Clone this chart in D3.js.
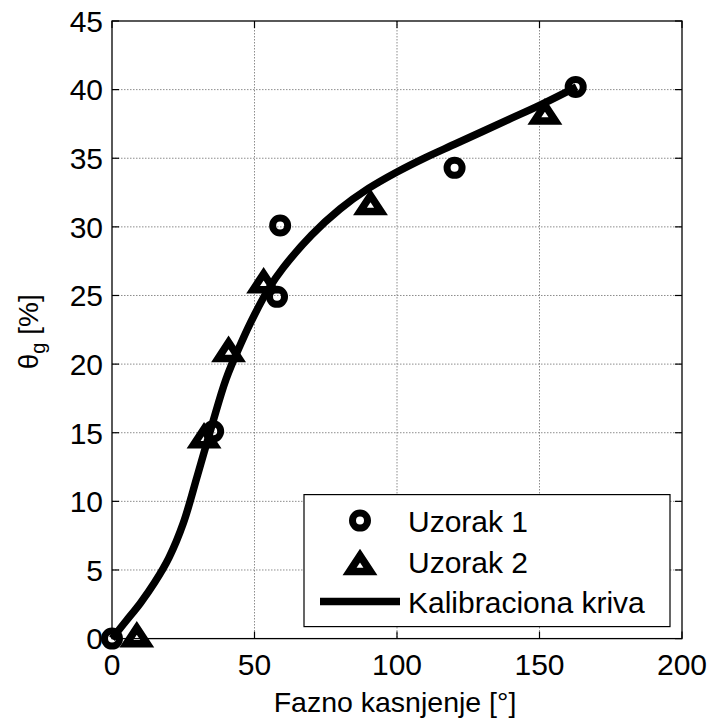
<!DOCTYPE html>
<html>
<head>
<meta charset="utf-8">
<script src="https://cdn.jsdelivr.net/npm/d3@7"></script>
<style>
  html, body { margin: 0; padding: 0; background: #fff; }
  svg { display: block; }
  text { font-family: "Liberation Sans", Arial, Helvetica, sans-serif; fill: #000; }
</style>
</head>
<body>
<svg id="canvas" width="714" height="721"></svg>
<script>
// ###############
// data
// ###############
var xTicks = [0, 50, 100, 150, 200];
var yTicks = [0, 5, 10, 15, 20, 25, 30, 35, 40, 45];

// Uzorak 1 (circles)
var uzorak1X = [0, 35.5, 57.9, 59.0, 120.2, 162.7];
var uzorak1Y = [0, 15.1, 24.9, 30.1, 34.3, 40.2];

// Uzorak 2 (triangles)
var uzorak2X = [8.7, 32.3, 40.9, 53.2, 90.7, 151.9];
var uzorak2Y = [0.2, 14.7, 21.0, 26.0, 31.7, 38.3];

// Kalibraciona kriva
var krivaX = [0, 5, 10, 15, 20, 25, 30, 35, 40, 45, 50, 55, 60, 70, 80, 90, 100, 110, 120, 130, 140, 150, 163];
var krivaY = [0, 1.3, 2.6, 4.1, 5.9, 8.4, 11.9, 15.5, 18.9, 21.4, 23.6, 25.5, 27.0, 29.4, 31.3, 32.8, 34.0, 35.05, 36.0, 36.95, 37.9, 38.85, 40.2];

var legendLabels = ["Uzorak 1", "Uzorak 2", "Kalibraciona kriva"];

// ###############
// layout
// ###############
var margin = {left: 112, top: 21, right: 32, bottom: 82.4};
var svg = d3.select("#canvas"),
    width = +svg.attr("width") - margin.left - margin.right,
    height = +svg.attr("height") - margin.top - margin.bottom;

var g = svg.append("g").attr("transform", "translate(" + margin.left + "," + margin.top + ")");

var x = d3.scaleLinear().domain([0, 200]).range([0, width]);
var y = d3.scaleLinear().domain([0, 45]).range([height, 0]);

// grid (dotted, MATLAB style)
g.append("g").selectAll("line.gx")
  .data(xTicks.slice(1, -1))
  .enter().append("line")
    .attr("x1", x).attr("x2", x)
    .attr("y1", 0).attr("y2", height)
    .attr("stroke", "#808080").attr("stroke-width", 0.9)
    .attr("stroke-dasharray", "1.5,1.5");
g.append("g").selectAll("line.gy")
  .data(yTicks.slice(1, -1))
  .enter().append("line")
    .attr("y1", y).attr("y2", y)
    .attr("x1", 0).attr("x2", width)
    .attr("stroke", "#808080").attr("stroke-width", 0.9)
    .attr("stroke-dasharray", "1.5,1.5");

// marker helpers
function circleMarker(sel) {
  sel.attr("r", 7.5).attr("fill", "none").attr("stroke", "#000").attr("stroke-width", 7);
}
var triW = 21, triH = 16;
var triPath = "M0," + (-triH / 2) + "L" + (triW / 2) + "," + (triH / 2) + "L" + (-triW / 2) + "," + (triH / 2) + "Z";
function triMarker(sel) {
  sel.attr("d", triPath).attr("fill", "none").attr("stroke", "#000")
     .attr("stroke-width", 7.5).attr("stroke-linejoin", "miter").attr("stroke-miterlimit", 10);
}

// Uzorak 1
g.append("g").selectAll("circle")
  .data(d3.zip(uzorak1X, uzorak1Y))
  .enter().append("circle")
    .attr("cx", function(d) { return x(d[0]); })
    .attr("cy", function(d) { return y(d[1]); })
    .call(circleMarker);

// Uzorak 2
g.append("g").selectAll("path")
  .data(d3.zip(uzorak2X, uzorak2Y))
  .enter().append("path")
    .attr("transform", function(d) { return "translate(" + x(d[0]) + "," + y(d[1]) + ")"; })
    .call(triMarker);

// calibration curve
var line = d3.line()
  .x(function(d) { return x(d[0]); })
  .y(function(d) { return y(d[1]); })
  .curve(d3.curveCatmullRom.alpha(0.5));
g.append("path")
  .datum(d3.zip(krivaX, krivaY))
  .attr("d", line)
  .attr("fill", "none")
  .attr("stroke", "#000")
  .attr("stroke-width", 7.5)
  .attr("stroke-linejoin", "round");

// ###############
// axes: box + inward ticks on all sides
// ###############
var tickLen = 7;
var ax = g.append("g").attr("stroke", "#000").attr("stroke-width", 1.2);
xTicks.forEach(function(t) {
  ax.append("line").attr("x1", x(t)).attr("x2", x(t)).attr("y1", height).attr("y2", height - tickLen);
  ax.append("line").attr("x1", x(t)).attr("x2", x(t)).attr("y1", 0).attr("y2", tickLen);
});
yTicks.forEach(function(t) {
  ax.append("line").attr("y1", y(t)).attr("y2", y(t)).attr("x1", 0).attr("x2", tickLen);
  ax.append("line").attr("y1", y(t)).attr("y2", y(t)).attr("x1", width).attr("x2", width - tickLen);
});
g.append("rect")
  .attr("x", 0).attr("y", 0).attr("width", width).attr("height", height)
  .attr("fill", "none").attr("stroke", "#000").attr("stroke-width", 1.3);

// tick labels
g.append("g").selectAll("text")
  .data(xTicks)
  .enter().append("text")
    .attr("x", x)
    .attr("y", height + 36.5)
    .attr("text-anchor", "middle")
    .attr("font-size", "30px")
    .text(function(d) { return d; });
g.append("g").selectAll("text")
  .data(yTicks)
  .enter().append("text")
    .attr("x", -9)
    .attr("y", y)
    .attr("dy", "0.36em")
    .attr("text-anchor", "end")
    .attr("font-size", "30px")
    .text(function(d) { return d; });

// axis labels
g.append("text")
  .attr("x", width / 2 - 2)
  .attr("y", height + 73)
  .attr("text-anchor", "middle")
  .attr("font-size", "28.5px")
  .text("Fazno kasnjenje [°]");

var yl = svg.append("text")
  .attr("transform", "translate(38," + (margin.top + height / 2 + 2) + ") rotate(-90)")
  .attr("text-anchor", "middle")
  .attr("font-size", "28px");
yl.append("tspan").text("θ");
yl.append("tspan").attr("font-size", "20px").attr("dy", "7").text("g");
yl.append("tspan").attr("dy", "-7").text(" [%]");

// ###############
// legend
// ###############
var lgW = 366, lgH = 132;
var lg = g.append("g").attr("transform", "translate(" + (width - 12 - lgW) + "," + (height - 12 - lgH) + ")");
lg.append("rect").attr("width", lgW).attr("height", lgH)
  .attr("fill", "#fff").attr("stroke", "#000").attr("stroke-width", 1.2);
var rowY = [27, 68, 108];
lg.append("circle").attr("cx", 56).attr("cy", rowY[0] - 1).call(circleMarker);
lg.append("path").attr("transform", "translate(56," + (rowY[1] + 1) + ")").call(triMarker);
lg.append("line").attr("x1", 16).attr("x2", 96).attr("y1", rowY[2] - 1).attr("y2", rowY[2] - 1)
  .attr("stroke", "#000").attr("stroke-width", 7.5);
lg.selectAll("text.lbl")
  .data(legendLabels)
  .enter().append("text")
    .attr("x", 104)
    .attr("y", function(d, i) { return rowY[i]; })
    .attr("dy", "0.36em")
    .attr("font-size", "30px")
    .text(function(d) { return d; });
</script>
</body>
</html>
